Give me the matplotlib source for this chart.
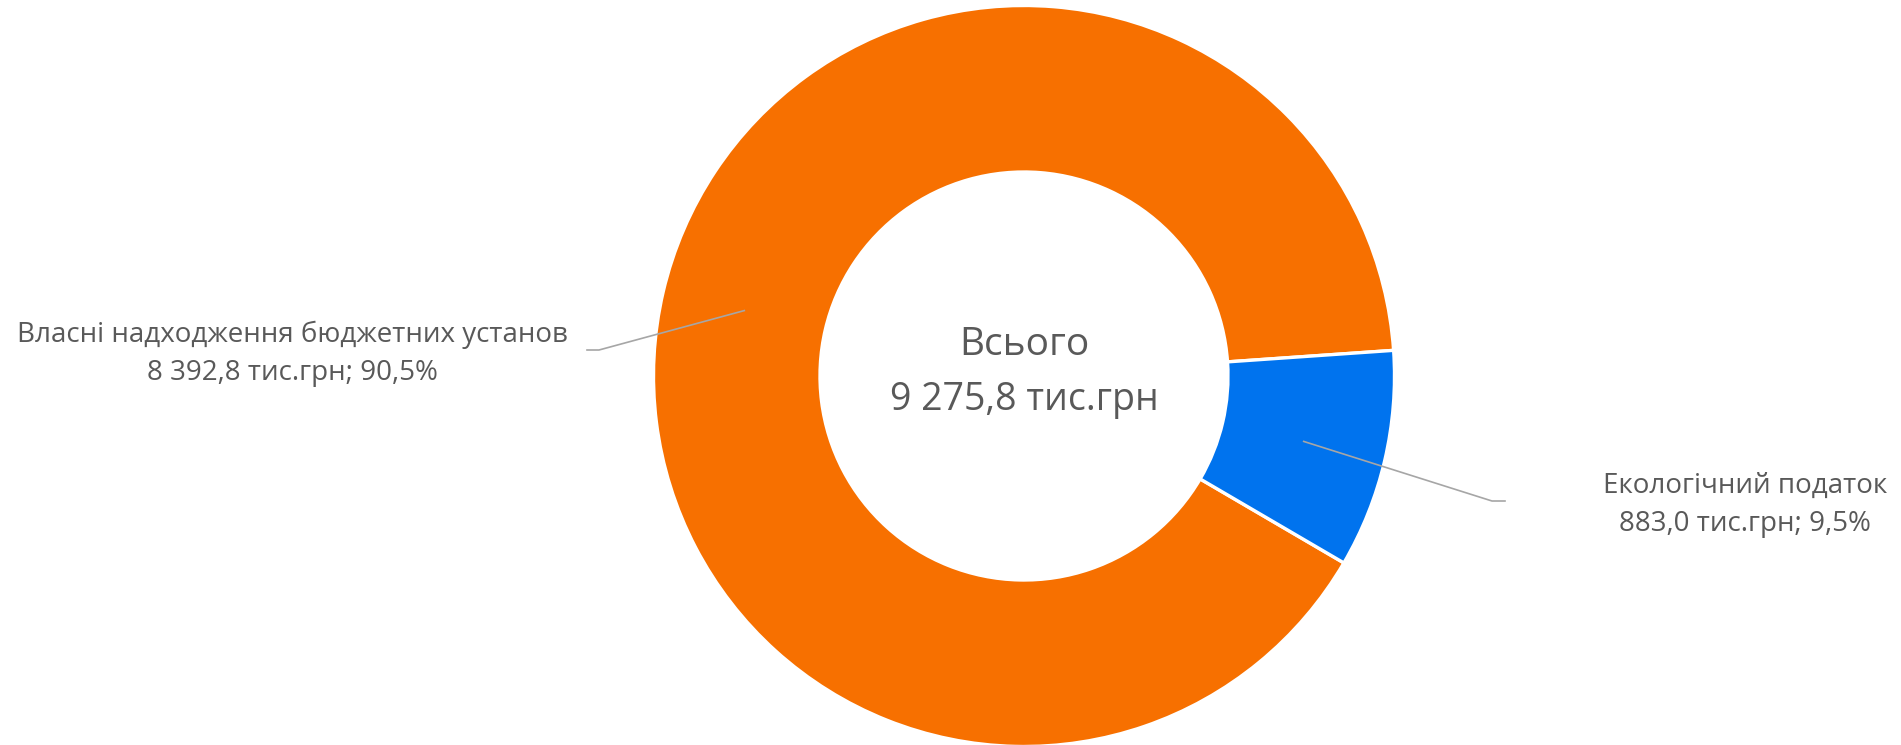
import numpy as np
from matplotlib import pyplot as plt

labels = ["Власні надходження бюджетних установ", "Екологічний податок"]
values = [8392.8, 883.0]
colors = ["#F77000", "#0073EE"]
total_title = "Всього"

total = sum(values)


def fmt(v):
    s = f"{v:,.1f}".replace(",", " ").replace(".", ",")
    return s


plt.rcParams['font.family'] = ['Open Sans', 'DejaVu Sans']
text_color = "#595959"

fig = plt.figure(figsize=(19.01, 7.45), dpi=100)
ax = fig.add_axes([0, 0, 1, 1])

cx, cy = 1024, 745 - 376
r_out = 370.5
r_in = 204
start = -30.3

wedges, _ = ax.pie(values, colors=colors, startangle=start, counterclock=False,
                   radius=r_out, center=(cx, cy),
                   wedgeprops=dict(width=r_out - r_in, edgecolor="white", linewidth=2.4))

# pie() resets the limits, so set them afterwards
ax.set_xlim(0, 1901)
ax.set_ylim(0, 745)
ax.set_aspect("equal")
ax.axis("off")

# centre text
ax.text(cx, cy + 31, total_title, ha="center", va="center", fontsize=28, color=text_color)
ax.text(cx, cy - 24, fmt(total) + " тис.грн", ha="center", va="center", fontsize=27, color=text_color)

# labels with leader lines
label_pos = [(292, 745 - 354), (1745, 745 - 505)]
elbows = [((599, 745 - 350), (587, 745 - 350)), ((1492, 745 - 501), (1505, 745 - 501))]
r_mid = (r_in + r_out) / 2
for w, lab, v, (lx, ly), (e1, e2) in zip(wedges, labels, values, label_pos, elbows):
    ang = np.deg2rad((w.theta1 + w.theta2) / 2)
    sx = cx + r_mid * np.cos(ang)
    sy = cy + r_mid * np.sin(ang)
    ax.plot([sx, e1[0], e2[0]], [sy, e1[1], e2[1]], color="#A6A6A6", lw=1.2)
    pct = f"{v / total * 100:.1f}".replace(".", ",")
    ax.text(lx, ly, f"{lab}\n{fmt(v)} тис.грн; {pct}%", ha="center", va="center",
            fontsize=20, color=text_color, linespacing=1.45)

fig.savefig("out.png", dpi=100)
